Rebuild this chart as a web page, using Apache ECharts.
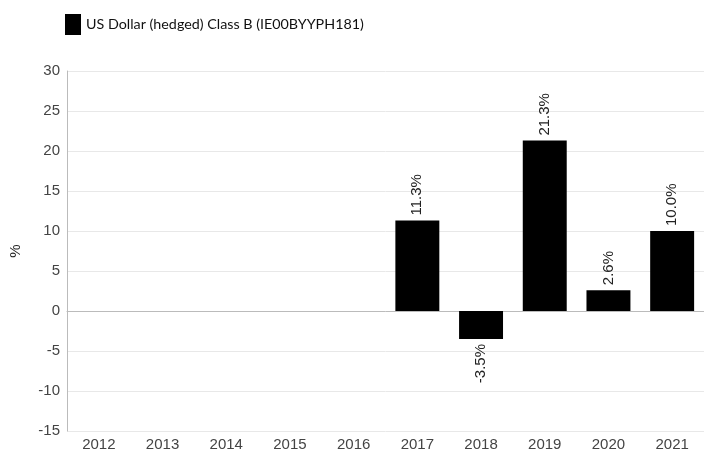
<!DOCTYPE html>
<html>
<head>
<meta charset="utf-8">
<script src="https://cdn.jsdelivr.net/npm/echarts@6/dist/echarts.min.js"></script>
<style>html,body{margin:0;padding:0;background:#fff;}#c{width:704px;height:452px;}</style>
</head>
<body>
<div id="c"></div>
<script>
const categories = ['2012','2013','2014','2015','2016','2017','2018','2019','2020','2021'];
const seriesName = 'US Dollar (hedged) Class B (IE00BYYPH181)';
const values = [null, null, null, null, null, 11.3, -3.5, 21.3, 2.6, 10.0];
const yTicks = [-15, -10, -5, 0, 5, 10, 15, 20, 25, 30];

const SANS = "Arial, 'Liberation Sans', sans-serif";
const chart = echarts.init(document.getElementById('c'));
const data = values.map(v => {
  if (v === null) return null;
  return {
    value: v,
    label: v < 0 ? { position: 'bottom', align: 'right' } : { position: 'top', align: 'left' }
  };
});
chart.setOption({
  animation: false,
  legend: {
    data: [{ name: seriesName, icon: 'rect' }],
    left: 60, top: 9,
    itemWidth: 16, itemHeight: 21, itemGap: 10,
    textStyle: { fontFamily: "Lato, sans-serif", fontSize: 14.3, color: '#111' }
  },
  grid: { left: 63, right: 0, top: 71, bottom: 21, containLabel: false },
  xAxis: {
    type: 'category', data: categories,
    axisLine: { lineStyle: { color: '#bbb' } },
    axisTick: { show: false },
    axisLabel: { color: '#444', fontFamily: SANS, fontSize: 15, margin: 6 }
  },
  yAxis: {
    type: 'value', min: yTicks[0], max: yTicks[yTicks.length - 1], interval: 5,
    name: '%', nameLocation: 'middle', nameGap: 44, nameRotate: 90,
    nameTextStyle: { color: '#222', fontFamily: SANS, fontSize: 15 },
    axisLine: { show: true, lineStyle: { color: '#bbb' } },
    axisTick: { show: false },
    splitLine: { lineStyle: { color: '#e8e8e8' } },
    axisLabel: { color: '#444', fontFamily: SANS, fontSize: 15, margin: 7 }
  },
  series: [{
    name: seriesName, type: 'bar', data: data,
    barWidth: '69%',
    itemStyle: { color: '#000' },
    label: {
      show: true, rotate: 90, distance: 5, verticalAlign: 'middle',
      formatter: p => p.value.toFixed(1) + '%',
      color: '#222', fontFamily: SANS, fontSize: 15
    }
  }]
});
</script>
</body>
</html>
